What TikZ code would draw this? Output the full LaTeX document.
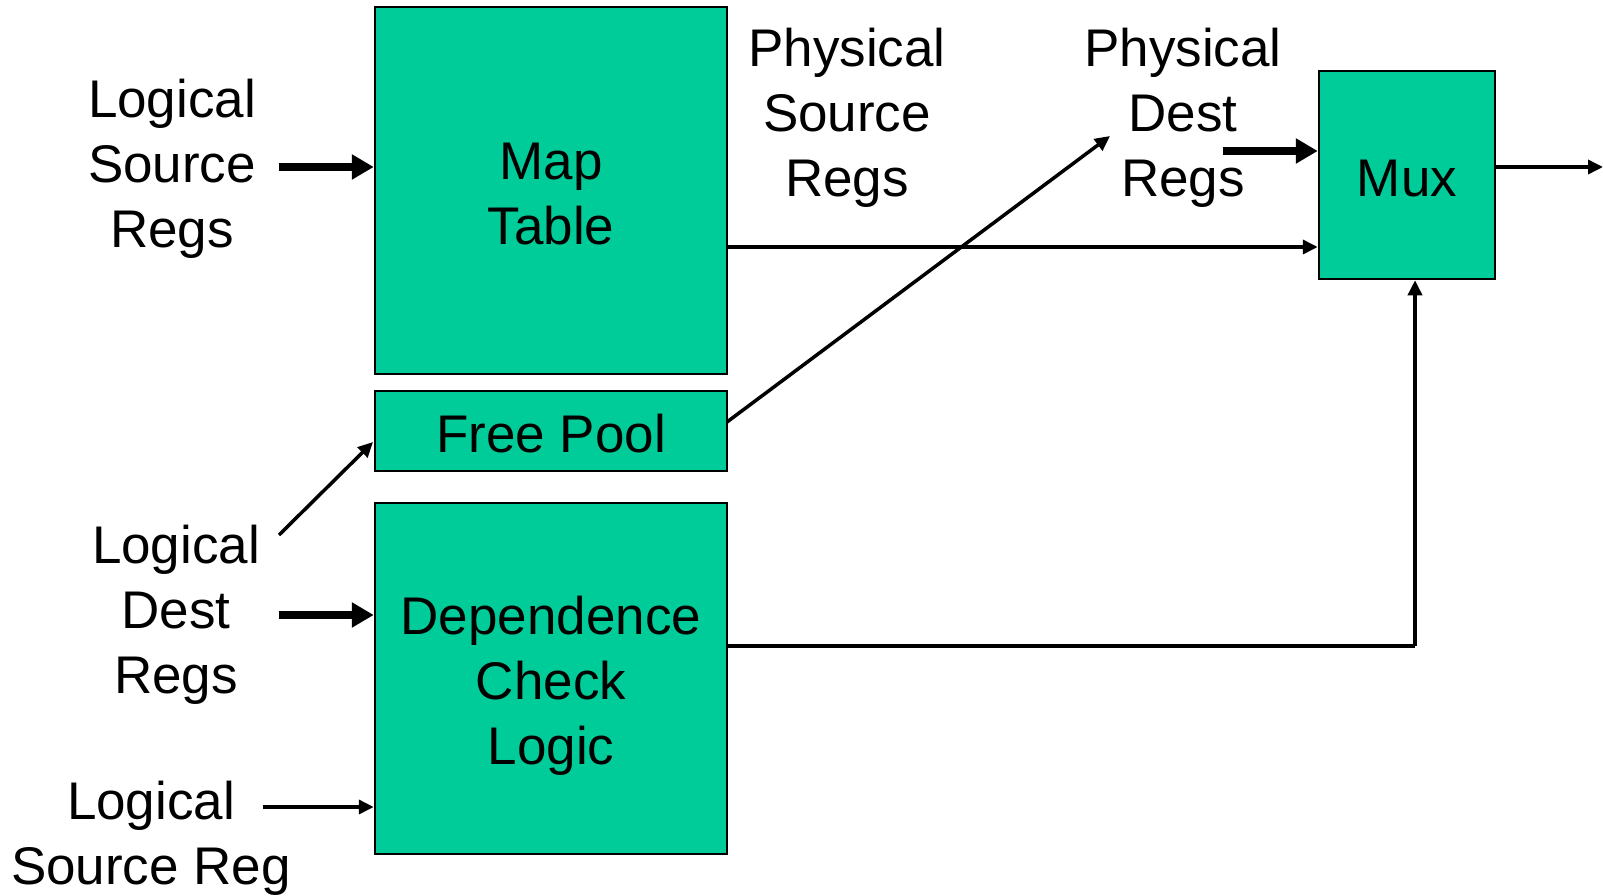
\documentclass[tikz,border=0pt]{standalone}
\usepackage{fontspec}
\setmainfont{Liberation Sans}
\usetikzlibrary{arrows.meta}
\definecolor{boxgreen}{HTML}{00CC99}
\begin{document}
\begin{tikzpicture}[x=1pt,y=-1pt,
  blk/.style={draw=black,line width=2.5pt,fill=boxgreen,inner sep=0pt,align=center,font=\fontsize{53}{65}\selectfont},
  lbl/.style={inner sep=0pt,align=center,font=\fontsize{53}{65}\selectfont},
  thin/.style={line width=3.5pt,-{Triangle[length=15pt,width=14pt]}},
  thick/.style={line width=7.5pt,-{Triangle[length=22pt,width=24pt]}},
  wire/.style={line width=3.5pt}]
\useasboundingbox (0,0) rectangle (1603,896);
% blocks
\node[blk,minimum width=352pt,minimum height=367pt] (map) at (551,190.5) {};
\node[lbl] (maptxt) at (551,194) {Map\\Table};
\node[blk,minimum width=352pt,minimum height=80pt] (free) at (551,431) {};
\node[lbl] (freetxt) at (551,434) {Free Pool};
\node[blk,minimum width=352pt,minimum height=351pt] (dep) at (551,678.5) {};
\node[lbl] (deptxt) at (551,686) {Dependence\\Check\\Logic};
\node[blk,minimum width=176pt,minimum height=208pt] (mux) at (1407,175) {};
\node[lbl] (muxtxt) at (1407,179) {Mux};
% labels
\node[lbl] (lsrs) at (172,169) {Logical\\Source\\Regs};
\node[lbl] (psr) at (847,118) {Physical\\Source\\Regs};
\node[lbl] (pdr) at (1183,118) {Physical\\Dest\\Regs};
\node[lbl] (ldr) at (176,615) {Logical\\Dest\\Regs};
\node[lbl] (lsr) at (151,838) {Logical\\Source Reg};
% coordinates
\coordinate (a1) at (279,167);
\coordinate (a2) at (279,615);
\coordinate (a3) at (279,535);
\coordinate (a3e) at (373,442);
\coordinate (a4) at (263,807);
\coordinate (a5) at (727,422);
\coordinate (a5e) at (1110,136);
\coordinate (a6) at (1223,151);
\coordinate (a7) at (727,247);
\coordinate (a8) at (1603,167);
\coordinate (a9) at (727,646);
\coordinate (a9c) at (1415,646);
% connectors
\draw[thick] (a1) -- (map.west |- a1);
\draw[thick] (a2) -- (dep.west |- a2);
\draw[thin] (a3) -- (a3e);
\draw[thin] (a4) -- (dep.west |- a4);
\draw[thin] (a5) -- (a5e);
\draw[thick] (a6) -- (mux.west |- a6);
\draw[thin] (a7) -- (mux.west |- a7);
\draw[thin] (mux.east |- a8) -- (a8);
\draw[wire] (a9) -- (a9c);
\draw[thin] (a9c) -- (mux.south -| a9c);
\end{tikzpicture}
\end{document}
